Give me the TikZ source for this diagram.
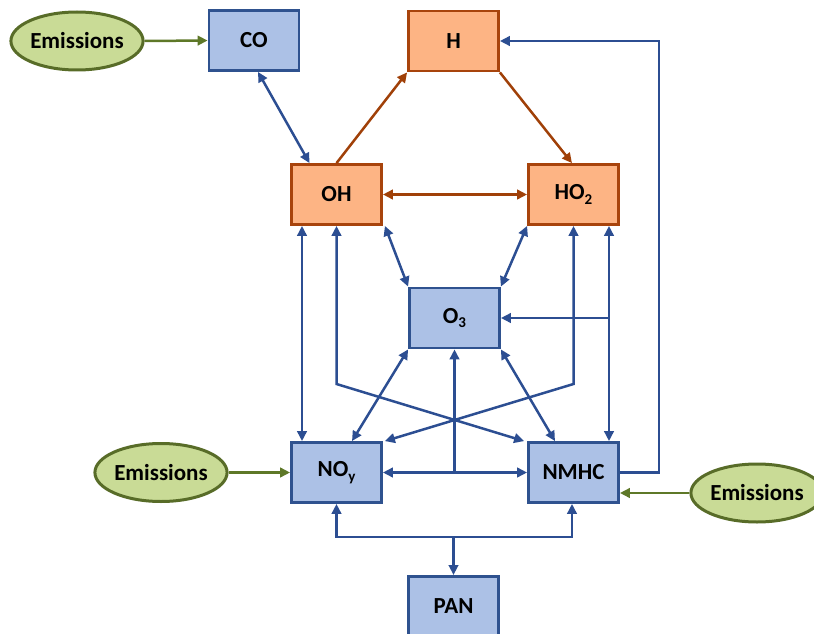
\documentclass[tikz,border=0pt]{standalone}
\usepackage{fontspec}
\setmainfont{Carlito}
\usetikzlibrary{arrows.meta,shapes.geometric,calc}
\definecolor{fillblue}{RGB}{172,193,230}
\definecolor{edgeblue}{RGB}{47,82,143}
\definecolor{arrblue}{RGB}{44,78,146}
\definecolor{fillorange}{RGB}{253,180,132}
\definecolor{edgeorange}{RGB}{168,68,12}
\definecolor{arrbrown}{RGB}{160,64,8}
\definecolor{fillgreen}{RGB}{201,219,150}
\definecolor{edgegreen}{RGB}{88,108,40}
\definecolor{arrgreen}{RGB}{94,120,40}
\newcommand{\lowsub}[1]{\raisebox{-0.4ex}{\fontsize{15}{15}\selectfont #1}}
\tikzset{
  tip/.tip={Triangle[length=10pt,width=9.5pt]},
  boxbase/.style={rectangle, line width=2.8pt, minimum width=90pt, minimum height=60pt, inner sep=0pt, font=\bfseries\fontsize{23}{27}\selectfont},
  bluebox/.style={boxbase, draw=edgeblue, fill=fillblue},
  orbox/.style={boxbase, draw=edgeorange, fill=fillorange},
  emis/.style={ellipse, draw=edgegreen, fill=fillgreen, line width=3pt, minimum width=127pt, minimum height=58pt, inner sep=0pt, font=\bfseries\fontsize{23}{27}\selectfont},
  bone/.style={draw=arrblue, line width=2.5pt, -tip},
  btwo/.style={draw=arrblue, line width=2.5pt, tip-tip},
  rone/.style={draw=arrbrown, line width=2.5pt, -tip},
  rtwo/.style={draw=arrbrown, line width=2.5pt, tip-tip},
  gone/.style={draw=arrgreen, line width=2.5pt, -tip},
}
\begin{document}
\begin{tikzpicture}[x=1pt,y=-1pt]
\useasboundingbox (0,0) rectangle (814,634);
\node[emis] (e1) at (77,41) {Emissions};
\node[bluebox] (co) at (254,40.5) {CO};
\node[orbox] (h) at (453.5,41) {H};
\node[orbox] (oh) at (336.5,194.5) {OH};
\node[orbox] (ho2) at (573.5,194.5) {HO\lowsub{2}};
\node[bluebox] (o3) at (454.5,318) {O\lowsub{3}};
\node[bluebox] (noy) at (336.5,472.5) {NO\lowsub{y}};
\node[bluebox] (nmhc) at (573.5,472.5) {NMHC};
\node[bluebox, anchor=north] (pan) at (453.5,575) {PAN};
\node[emis] (e2) at (161,472.5) {Emissions};
\node[emis] (e3) at (757,493) {Emissions};

\coordinate (rc) at (659,300);
\coordinate (c1) at (336.5,384);
\coordinate (c2) at (573.5,384);
\coordinate (br) at (609,318);
\coordinate (j) at (454.5,472.5);
\coordinate (pj) at (453.5,537);

\draw[gone] (e1.east) -- (co.west);
\draw[btwo] ([xshift=4pt]co.south) -- ([xshift=-27pt]oh.north);
\draw[rone] (oh.north) -- (h.south west);
\draw[rone] (h.south east) -- ([xshift=-1.5pt]ho2.north);
\draw[rtwo] (oh.east) -- (ho2.west);
\draw[bone] (nmhc.east) -| (rc) |- (h.east);

\draw[btwo] ([xshift=-34.5pt]oh.south) -- ([xshift=-34.5pt]noy.north);
\draw[btwo] (oh.south) -- (c1) -- ([xshift=-3pt]nmhc.north west);
\draw[btwo] (ho2.south) -- (c2) -- ([xshift=2pt]noy.north east);
\draw[btwo] ([xshift=35.5pt]ho2.south) -- ([xshift=35.5pt]nmhc.north);
\draw[bone] (br) -- (o3.east);
\draw[btwo] ([xshift=2pt]oh.south east) -- (o3.north west);
\draw[btwo] (ho2.south west) -- (o3.north east);
\draw[btwo] (o3.south west) -- ([xshift=15.5pt]noy.north);
\draw[btwo] (o3.south east) -- ([xshift=-18.5pt]nmhc.north);
\draw[btwo] (noy.east) -- (nmhc.west);
\draw[bone] (j) -- (o3.south);
\draw[bone] (pj) -- (pan.north);
\draw[bone] (pj) -| (noy.south);
\draw[bone] (pj) -| ([xshift=-1.5pt]nmhc.south);

\draw[gone] (e2.east) -- (noy.west);
\draw[gone] (e3.west) -- (e3.west -| nmhc.east);
\end{tikzpicture}
\end{document}
